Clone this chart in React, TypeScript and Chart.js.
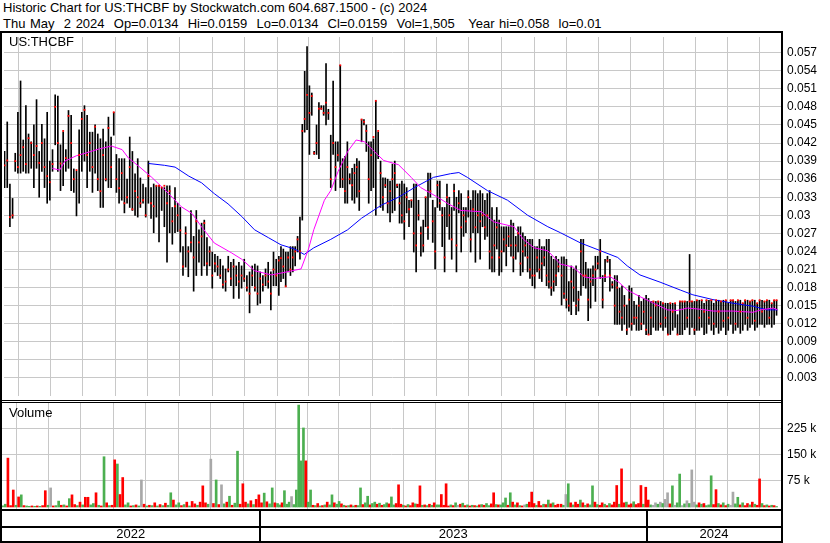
import React, { useEffect, useRef } from 'react';
import { Chart, registerables } from 'chart.js';
Chart.register(...registerables);

// ---------- data ----------
const EPOCH = Date.UTC(2022, 4, 1); // x axis unit: days since 1 May 2022
const dayOf = (s: string) => (Date.parse(s + 'T00:00:00Z') - EPOCH) / 86400000;

const TITLE = 'Historic Chart for US:THCBF by Stockwatch.com 604.687.1500 - (c) 2024';
const SUBTITLE = 'Thu May  2 2024  Op=0.0134  Hi=0.0159  Lo=0.0134  Cl=0.0159  Vol=1,505   Year hi=0.058  lo=0.01';
const SYMBOL = 'US:THCBF';
const VOLUME_LABEL = 'Volume';
const YEARS = ['2022', '2023', '2024'];
const YEAR_STARTS = ['2023-01-01', '2024-01-01'];

// trading bars spread evenly inside each date segment
const BAR_SEGMENTS = [
  { from: '2022-05-04', to: '2023-01-18', count: 104 },
  { from: '2023-01-20', to: '2023-10-09', count: 118 },
  { from: '2023-10-12', to: '2024-05-02', count: 90 },
];

const HIGH = [
  .0406,.0455,.0352,.0328,.0403,.0471,.0523,.0425,.0482,.0435,
  .0422,.0450,.0492,.0406,.0451,.0427,.0471,.0390,.0409,.0500,
  .0498,.0417,.0438,.0409,.0474,.0466,.0377,.0373,.0442,.0471,
  .0482,.0466,.0438,.0438,.0450,.0435,.0427,.0443,.0422,.0463,
  .0430,.0471,.0401,.0394,.0394,.0394,.0360,.0430,.0406,.0369,
  .0394,.0362,.0352,.0346,.0390,.0346,.0352,.0349,.0349,.0346,
  .0346,.0349,.0349,.0313,.0346,.0320,.0313,.0248,.0281,.0248,
  .0308,.0265,.0308,.0276,.0287,.0292,.0263,.0248,.0239,.0235,
  .0232,.0227,.0216,.0211,.0232,.0222,.0227,.0216,.0222,.0216,
  .0227,.0200,.0206,.0216,.0219,.0216,.0206,.0200,.0211,.0222,
  .0206,.0239,.0227,.0232,
  .0248,.0244,.0239,.0239,.0248,.0248,.0248,.0265,.0297,.0451,
  .0539,.0580,.0515,.0503,.0406,.0450,.0487,.0482,.0482,.0552,
  .0476,.0433,.0523,.0422,.0422,.0549,.0394,.0398,.0422,.0369,
  .0378,.0385,.0394,.0390,.0459,.0459,.0450,.0422,.0422,.0427,
  .0490,.0438,.0390,.0362,.0362,.0360,.0357,.0385,.0390,.0352,
  .0352,.0357,.0352,.0346,.0325,.0325,.0352,.0352,.0325,.0281,
  .0292,.0330,.0370,.0370,.0325,.0313,.0357,.0357,.0313,.0313,
  .0352,.0330,.0313,.0352,.0330,.0341,.0336,.0313,.0313,.0341,
  .0325,.0341,.0341,.0336,.0341,.0336,.0325,.0336,.0341,.0313,
  .0292,.0313,.0292,.0281,.0281,.0281,.0281,.0292,.0287,.0265,
  .0281,.0281,.0271,.0265,.0260,.0260,.0260,.0248,.0248,.0260,
  .0248,.0248,.0260,.0260,.0232,.0227,.0232,.0227,
  .0231,.0231,.0227,.0190,.0216,.0211,.0216,.0174,.0260,.0260,
  .0222,.0211,.0211,.0216,.0232,.0232,.0260,.0200,.0227,.0232,
  .0227,.0190,.0200,.0200,.0179,.0183,.0167,.0151,.0183,.0179,
  .0157,.0151,.0167,.0157,.0162,.0167,.0162,.0157,.0157,.0157,
  .0157,.0157,.0154,.0154,.0154,.0154,.0154,.0154,.0135,.0157,
  .0157,.0157,.0157,.0235,.0157,.0157,.0159,.0159,.0159,.0154,
  .0159,.0159,.0159,.0154,.0159,.0159,.0157,.0159,.0159,.0154,
  .0159,.0159,.0157,.0159,.0159,.0154,.0159,.0159,.0157,.0159,
  .0159,.0154,.0159,.0159,.0157,.0159,.0159,.0154,.0159,.0159,
];

const LOW = [
  .0346,.0346,.0281,.0295,.0373,.0370,.0370,.0373,.0370,.0370,
  .0378,.0346,.0378,.0330,.0373,.0346,.0320,.0325,.0373,.0417,
  .0373,.0341,.0349,.0373,.0378,.0341,.0338,.0299,.0320,.0373,
  .0390,.0346,.0373,.0338,.0370,.0341,.0313,.0313,.0357,.0346,
  .0346,.0433,.0338,.0320,.0325,.0304,.0320,.0313,.0308,.0300,
  .0297,.0313,.0320,.0297,.0320,.0295,.0271,.0297,.0256,.0308,
  .0281,.0222,.0271,.0252,.0271,.0273,.0239,.0200,.0214,.0198,
  .0239,.0174,.0200,.0222,.0200,.0216,.0200,.0216,.0179,.0206,
  .0200,.0195,.0179,.0174,.0206,.0183,.0162,.0183,.0162,.0179,
  .0190,.0174,.0138,.0183,.0174,.0151,.0154,.0174,.0183,.0179,
  .0143,.0183,.0183,.0167,
  .0190,.0195,.0182,.0206,.0200,.0206,.0216,.0239,.0227,.0292,
  .0438,.0442,.0401,.0466,.0401,.0401,.0394,.0476,.0466,.0450,
  .0459,.0346,.0401,.0341,.0390,.0346,.0346,.0320,.0320,.0352,
  .0325,.0320,.0330,.0308,.0422,.0450,.0406,.0320,.0341,.0346,
  .0300,.0394,.0313,.0308,.0346,.0304,.0289,.0304,.0308,.0346,
  .0287,.0287,.0260,.0304,.0281,.0313,.0239,.0206,.0292,.0232,
  .0239,.0281,.0260,.0330,.0255,.0211,.0313,.0308,.0248,.0206,
  .0281,.0260,.0227,.0308,.0206,.0304,.0239,.0265,.0271,.0297,
  .0239,.0271,.0222,.0271,.0227,.0281,.0260,.0265,.0211,.0206,
  .0206,.0244,.0200,.0206,.0239,.0216,.0248,.0232,.0206,.0227,
  .0239,.0200,.0206,.0232,.0206,.0195,.0183,.0179,.0206,.0195,
  .0190,.0216,.0183,.0179,.0167,.0174,.0183,.0206,
  .0151,.0162,.0146,.0141,.0135,.0157,.0135,.0141,.0167,.0183,
  .0179,.0125,.0146,.0183,.0157,.0211,.0195,.0146,.0190,.0222,
  .0174,.0179,.0119,.0119,.0119,.0109,.0119,.0102,.0114,.0109,
  .0119,.0109,.0109,.0110,.0119,.0102,.0102,.0102,.0114,.0109,
  .0109,.0114,.0109,.0114,.0102,.0102,.0109,.0114,.0102,.0102,
  .0102,.0110,.0114,.0102,.0114,.0102,.0109,.0109,.0114,.0102,
  .0104,.0119,.0109,.0102,.0114,.0104,.0109,.0114,.0102,.0109,
  .0119,.0104,.0109,.0114,.0104,.0109,.0119,.0109,.0114,.0119,
  .0109,.0114,.0119,.0119,.0114,.0119,.0119,.0114,.0119,.0134,
];

const CLOSE = [
  .0383,.0391,.0297,.0300,.0390,.0380,.0400,.0413,.0385,.0428,
  .0420,.0400,.0415,.0387,.0420,.0380,.0365,.0355,.0385,.0480,
  .0420,.0386,.0440,.0395,.0465,.0420,.0360,.0375,.0400,.0460,
  .0475,.0400,.0420,.0380,.0447,.0360,.0340,.0400,.0360,.0445,
  .0380,.0471,.0360,.0345,.0370,.0320,.0330,.0380,.0310,.0340,
  .0330,.0320,.0325,.0300,.0365,.0320,.0315,.0349,.0349,.0346,
  .0349,.0320,.0340,.0290,.0315,.0300,.0275,.0215,.0270,.0240,
  .0255,.0230,.0290,.0255,.0265,.0287,.0220,.0240,.0200,.0220,
  .0215,.0200,.0185,.0190,.0210,.0195,.0215,.0200,.0190,.0200,
  .0195,.0180,.0170,.0200,.0180,.0170,.0195,.0185,.0200,.0190,
  .0170,.0210,.0200,.0225,
  .0229,.0215,.0182,.0230,.0210,.0230,.0240,.0260,.0240,.0440,
  .0460,.0500,.0470,.0498,.0403,.0420,.0477,.0477,.0470,.0487,
  .0470,.0360,.0420,.0380,.0400,.0549,.0360,.0340,.0380,.0360,
  .0350,.0370,.0380,.0340,.0459,.0455,.0440,.0360,.0400,.0430,
  .0490,.0440,.0370,.0330,.0350,.0320,.0340,.0360,.0370,.0350,
  .0320,.0300,.0290,.0330,.0310,.0325,.0270,.0250,.0300,.0270,
  .0250,.0330,.0280,.0340,.0290,.0240,.0350,.0320,.0300,.0230,
  .0330,.0300,.0260,.0340,.0250,.0320,.0280,.0300,.0290,.0330,
  .0260,.0310,.0280,.0300,.0290,.0300,.0280,.0300,.0240,.0230,
  .0250,.0280,.0230,.0240,.0260,.0250,.0265,.0250,.0230,.0250,
  .0270,.0220,.0240,.0250,.0230,.0210,.0200,.0200,.0230,.0210,
  .0220,.0230,.0200,.0190,.0180,.0190,.0200,.0215,
  .0200,.0170,.0160,.0150,.0190,.0180,.0150,.0160,.0240,.0200,
  .0200,.0160,.0190,.0200,.0210,.0220,.0240,.0160,.0200,.0225,
  .0200,.0185,.0150,.0180,.0140,.0130,.0150,.0110,.0160,.0120,
  .0130,.0130,.0150,.0120,.0140,.0110,.0102,.0130,.0157,.0150,
  .0157,.0120,.0154,.0130,.0102,.0154,.0140,.0154,.0102,.0157,
  .0157,.0157,.0130,.0157,.0157,.0110,.0159,.0130,.0159,.0140,
  .0159,.0130,.0159,.0120,.0159,.0140,.0157,.0125,.0159,.0130,
  .0159,.0159,.0120,.0159,.0140,.0154,.0159,.0130,.0157,.0159,
  .0125,.0154,.0159,.0140,.0157,.0159,.0130,.0154,.0159,.0159,
];

// volume in thousands of shares
const VOLUME_K = [
  3,8,141,4,49,5,29,35,4,3, 2,3,2,3,2,4,47,5,55,3, 4,17,5,6,3,24,35,7,4,14,
  6,28,28,6,10,41,5,3,145,12, 4,5,136,124,36,85,6,12,3,4, 6,3,78,8,3,5,4,12,3,7,
  4,11,5,41,20,6,12,4,7,14, 3,16,9,5,14,61,12,8,138,10, 78,7,64,9,14,31,5,11,161,8,
  67,14,9,18,7,22,35,12,40,15, 9,55,12,10,
  6,12,47,8,14,30,7,49,294,133, 228,133,14,49,5,4,10,3,4,6, 14,6,35,12,8,16,9,5,3,4,
  6,3,5,4,55,7,12,31,6,10, 14,8,11,5,7,12,9,29,6,10, 64,8,5,3,7,4,12,9,8,61,
  5,6,4,8,5,12,6,6,36,5, 67,3,6,4,12,5,8,11,4,6, 3,5,4,3,6,7,5,10,4,9,
  41,7,6,6,12,26,5,41,14,6, 12,4,3,6,8,14,43,10,5,16, 4,8,7,20,9,12,5,8,
  8,5,36,67,12,6,14,8,20,12, 5,9,6,61,14,7,5,12,8,4, 10,6,14,62,8,110,12,14,6,9,
  15,7,10,62,8,57,20,6,5,12, 8,14,10,22,41,9,61,5,12,95, 4,9,18,10,107,14,6,12,8,10,
  4,6,90,7,50,10,6,12,4,8, 5,43,9,28,6,12,4,10,6,14, 8,5,81,10,4,6,3,5,4,1.5,
];

// day direction: g = up, r = down, n = unchanged
const DIRECTION = (
  'ggrrrgrgrg grgrgrrgnr ggrgrgrrgr grrggrgrgr grrgrrggrg rgnrgrgrgr grggrggrgr grrgrrrgnr grngrgrggr rrgrgrrrgr ggrg ' +
  'grgggngggg grggrgrgrg rggrggrgrg rgrggrggrg grgrggrggr rrgrgrrgrr grgrgrggrr rrgrgnrgrg rgrgrgrggr rgrgggrgrg rgrngrrrgr rgrgrgrr ' +
  'rgngrgrrgr grggrgrrgr grrrgrrgrr grrrgrrgnn gngnnrgngg ngngnngrgr gggrrgrgrg nnggrgrrgr grrgrgrgrg'
).replace(/ /g, '');

// moving averages, x = days since 1 May 2022
const MA_FAST_DAY = [48,55,60,71,79,92,104,114,120,130,142,158,170,180,189,201,217,227,239,255,264,283,290,295,305,311,318,327,335,343,352,361,375,387,396,412,422,434,453,465,484,493,503,516,528,540,550,559,575,583,591,603,616,629,638,648,660,672,691,710,717,729,733];
const MA_FAST = [.0378,.0375,.0390,.0399,.0403,.0410,.0415,.0409,.0395,.0381,.0363,.0336,.0314,.0303,.0281,.0254,.0238,.0227,.0208,.0201,.0204,.0211,.0244,.0276,.0325,.0341,.0373,.0406,.0425,.0422,.0406,.0391,.0384,.0363,.0346,.0330,.0319,.0308,.0306,.0289,.0281,.0260,.0246,.0241,.0219,.0214,.0198,.0195,.0198,.0189,.0176,.0165,.0154,.0143,.0142,.0146,.0144,.0141,.0141,.0139,.0143,.0146,.0143];
const MA_SLOW_DAY = [139,154,164,177,189,201,214,227,239,252,264,277,286,295,311,327,340,359,375,390,408,424,432,440,459,478,497,516,528,547,566,582,591,603,622,641,653,672,691,710,723,733];
const MA_SLOW = [.0386,.0383,.0380,.0365,.0354,.0336,.0319,.0298,.0276,.0263,.0251,.0244,.0235,.0246,.0260,.0276,.0295,.0317,.0330,.0346,.0363,.0369,.0371,.0363,.0341,.0325,.0300,.0281,.0271,.0254,.0241,.0230,.0216,.0201,.0189,.0176,.0168,.0160,.0154,.0149,.0143,.0143];

const PRICE_TICKS = [0.003,0.006,0.009,0.012,0.015,0.018,0.021,0.024,0.027,0.03,0.033,0.036,0.039,0.042,0.045,0.048,0.051,0.054,0.057];
const VOLUME_TICKS = [75000, 150000, 225000];

// ---------- layout / style ----------
const W = 830;
const PLOT_L = 2;
const PLOT_R = 781;
const X_MIN = 2.45;
const X_MAX = 736.2;
const PRICE_TOP = 33;
const PRICE_H = 367;
const PRICE_MAX = 0.0596;
const VOL_TOP = 403;
const VOL_H = 106;
const VOL_MIN = -5800;
const VOL_MAX = 300000;
const FONT = '"Liberation Sans", Arial, Helvetica, sans-serif';
const GRID = '#c8c8c8';
const COLORS: Record<string, string> = { g: '#4caf50', r: '#ff0000', n: '#a8a8a8' };

function buildBars() {
  const out: { x: number; lo: number; hi: number; c: number; v: number; d: string }[] = [];
  let k = 0;
  for (const seg of BAR_SEGMENTS) {
    const a = dayOf(seg.from), b = dayOf(seg.to);
    for (let j = 0; j < seg.count; j++, k++) {
      if (k >= HIGH.length) break;
      out.push({
        x: a + ((b - a) * j) / (seg.count - 1),
        lo: LOW[k], hi: HIGH[k], c: CLOSE[k],
        v: VOLUME_K[k] * 1000, d: DIRECTION[k] || 'n',
      });
    }
  }
  return out;
}

function monthTicks() {
  const out: number[] = [];
  let y = 2022, m = 5;
  for (;;) {
    const d = (Date.UTC(y, m, 1) - EPOCH) / 86400000;
    if (d > X_MAX) break;
    out.push(d);
    m++;
    if (m > 11) { m = 0; y++; }
  }
  return out;
}

const xPixel = (day: number) => PLOT_L + ((day - X_MIN) / (X_MAX - X_MIN)) * (PLOT_R - PLOT_L);

function xScale(): any {
  const ticks = monthTicks();
  return {
    type: 'linear', min: X_MIN, max: X_MAX, offset: false,
    grid: { color: GRID, lineWidth: 1, drawTicks: false },
    border: { display: false },
    ticks: { display: false },
    afterBuildTicks: (s: any) => { s.ticks = ticks.map((v) => ({ value: v })); },
    afterFit: (s: any) => { s.height = 0; s.paddingLeft = 0; s.paddingRight = 0; },
  };
}

function yScale(min: number, max: number, ticks: number[], fmt: (v: number) => string): any {
  return {
    position: 'right', min, max,
    grid: { color: GRID, lineWidth: 1, drawTicks: false },
    border: { display: false },
    ticks: { font: { family: FONT, size: 12 }, color: '#000', padding: 6, callback: (v: any) => fmt(Number(v)) },
    afterBuildTicks: (s: any) => { s.ticks = ticks.map((v) => ({ value: v })); },
    afterFit: (s: any) => { s.width = W - PLOT_R; s.paddingTop = 0; s.paddingBottom = 0; },
  };
}

const baseOptions = {
  animation: false as const,
  responsive: false,
  maintainAspectRatio: false,
  events: [] as any[],
  layout: { padding: { left: PLOT_L, right: 0, top: 0, bottom: 0 } },
  plugins: { legend: { display: false }, tooltip: { enabled: false } },
};

export default function App() {
  const priceRef = useRef<HTMLCanvasElement>(null);
  const volRef = useRef<HTMLCanvasElement>(null);

  useEffect(() => {
    const bars = buildBars();
    const price = new Chart(priceRef.current!, {
      type: 'bar',
      data: {
        datasets: [
          {
            type: 'scatter', data: bars.map((b) => ({ x: b.x, y: b.c })),
            pointStyle: 'rect', pointRadius: 1.3, pointBackgroundColor: '#ff0000',
            pointBorderWidth: 0, showLine: false, order: 0,
          } as any,
          {
            type: 'line', data: MA_FAST_DAY.map((d, i) => ({ x: d, y: MA_FAST[i] })),
            borderColor: '#ff00ff', borderWidth: 1, pointRadius: 0, tension: 0, order: 1,
          } as any,
          {
            type: 'line', data: MA_SLOW_DAY.map((d, i) => ({ x: d, y: MA_SLOW[i] })),
            borderColor: '#0000ff', borderWidth: 1, pointRadius: 0, tension: 0, order: 2,
          } as any,
          {
            type: 'bar', data: bars.map((b) => ({ x: b.x, y: [b.lo, b.hi] })),
            backgroundColor: '#000000', barThickness: 1, order: 3,
          } as any,
        ],
      },
      options: {
        ...baseOptions,
        scales: {
          x: xScale(),
          y: yScale(0, PRICE_MAX, PRICE_TICKS, (v) => String(parseFloat(v.toFixed(3)))),
        },
      } as any,
    });

    const vol = new Chart(volRef.current!, {
      type: 'bar',
      data: {
        datasets: [
          {
            data: bars.map((b) => ({ x: b.x, y: b.v })),
            backgroundColor: bars.map((b) => COLORS[b.d]),
            barThickness: 2,
          } as any,
        ],
      },
      options: {
        ...baseOptions,
        scales: {
          x: xScale(),
          y: yScale(VOL_MIN, VOL_MAX, VOLUME_TICKS, (v) => `${Math.round(v / 1000)} k`),
        },
      } as any,
    });

    return () => { price.destroy(); vol.destroy(); };
  }, []);

  const yearEdges = [PLOT_L, ...YEAR_STARTS.map((s) => xPixel(dayOf(s))), PLOT_R];
  const line = (l: number, t: number, w: number, h: number, key: string) => (
    <div key={key} style={{ position: 'absolute', left: l, top: t, width: w, height: h, background: '#000' }} />
  );

  return (
    <div style={{ position: 'relative', width: W, height: 543, background: '#fff', overflow: 'hidden', fontFamily: FONT, color: '#000' }}>
      <style>{'body{margin:0}'}</style>
      <div style={{ position: 'absolute', left: 3, top: 0, fontSize: 13, lineHeight: '16px', whiteSpace: 'pre' }}>
        <div>{TITLE}</div>
        <div style={{ wordSpacing: '1px' }}>{SUBTITLE}</div>
      </div>
      <canvas ref={priceRef} width={W} height={PRICE_H} style={{ position: 'absolute', left: 0, top: PRICE_TOP, width: W, height: PRICE_H }} />
      <canvas ref={volRef} width={W} height={VOL_H} style={{ position: 'absolute', left: 0, top: VOL_TOP, width: W, height: VOL_H }} />
      <div style={{ position: 'absolute', left: 9, top: 34, fontSize: 13, lineHeight: '15px' }}>{SYMBOL}</div>
      <div style={{ position: 'absolute', left: 9, top: 405, fontSize: 13, lineHeight: '15px' }}>{VOLUME_LABEL}</div>
      {line(0, 31, PLOT_R + 2, 2, 'top')}
      {line(0, 31, 2, 512, 'left')}
      {line(PLOT_R, 31, 2, 512, 'right')}
      {line(0, 400, PLOT_R + 2, 1, 'pb1')}
      {line(0, 402, PLOT_R + 2, 1, 'pb2')}
      {line(0, 509, PLOT_R + 2, 2, 'vb')}
      {line(0, 526, PLOT_R + 2, 2, 'ym')}
      {line(0, 541, PLOT_R + 2, 2, 'yb')}
      {yearEdges.slice(1, -1).map((x, i) => line(Math.round(x) - 1, 511, 2, 30, 'ys' + i))}
      {YEARS.map((y, i) => (
        <div key={y} style={{ position: 'absolute', left: yearEdges[i], width: yearEdges[i + 1] - yearEdges[i], top: 527, height: 14, lineHeight: '14px', fontSize: 13, textAlign: 'center' }}>{y}</div>
      ))}
    </div>
  );
}
